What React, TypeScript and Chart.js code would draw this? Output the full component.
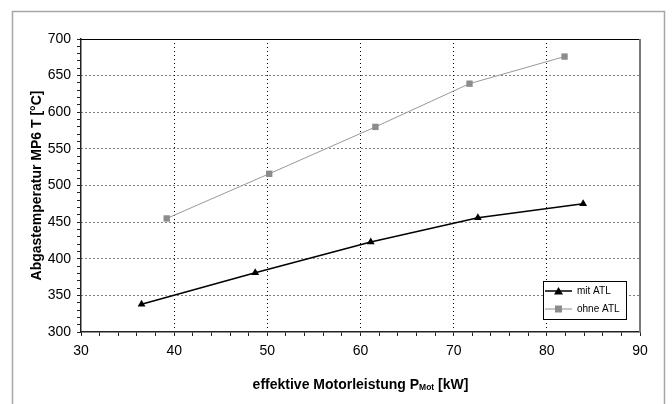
import { useEffect, useRef } from 'react';
import { Chart, registerables } from 'chart.js';

Chart.register(...registerables);

const seriesNames = ['mit ATL', 'ohne ATL'];
const mitAtlPower = [36.5, 48.7, 61.1, 72.6, 83.9];
const mitAtlTemp = [338, 381, 423, 456, 475];
const ohneAtlPower = [39.2, 50.2, 61.6, 71.7, 81.9];
const ohneAtlTemp = [455, 516, 580, 639, 676];
const xTitleMain = 'effektive Motorleistung P';
const xTitleSub = 'Mot';
const xTitleEnd = ' [kW]';
const yTitle = 'Abgastemperatur MP6 T [°C]';

const FONT = '"Liberation Sans", Arial, sans-serif';
const BLACK = '#000000';
const GRAY = '#8c8c8c';

function drawMarker(ctx: CanvasRenderingContext2D, kind: string, x: number, y: number, color: string) {
  ctx.save();
  ctx.fillStyle = color;
  if (kind === 'triangle') {
    ctx.beginPath();
    ctx.moveTo(x, y - 4);
    ctx.lineTo(x + 4.5, y + 3.5);
    ctx.lineTo(x - 4.5, y + 3.5);
    ctx.closePath();
    ctx.fill();
  } else {
    ctx.fillRect(x - 3.5, y - 3.5, 7, 7);
  }
  ctx.restore();
}

const decorPlugin = {
  id: 'decor',
  beforeDraw(chart: any) {
    const ctx = chart.ctx as CanvasRenderingContext2D;
    ctx.save();
    ctx.fillStyle = '#ffffff';
    ctx.fillRect(0, 0, chart.width, chart.height);
    ctx.strokeStyle = '#a6a6a6';
    ctx.lineWidth = 1.5;
    ctx.strokeRect(12.5, 11.5, 652, 420);
    ctx.restore();
  },
  beforeDatasetsDraw(chart: any) {
    const ctx = chart.ctx as CanvasRenderingContext2D;
    const a = chart.chartArea;
    ctx.save();
    ctx.strokeStyle = '#000';
    ctx.lineWidth = 1;
    ctx.beginPath();
    ctx.moveTo(a.left, a.top + 0.5);
    ctx.lineTo(a.right, a.top + 0.5);
    ctx.stroke();
    ctx.strokeStyle = '#7a7a7a';
    ctx.lineWidth = 2;
    ctx.beginPath();
    ctx.moveTo(a.right, a.top);
    ctx.lineTo(a.right, a.bottom);
    ctx.stroke();
    ctx.restore();
  },
  afterDraw(chart: any) {
    const ctx = chart.ctx as CanvasRenderingContext2D;
    const a = chart.chartArea;
    ctx.save();
    ctx.fillStyle = '#000';
    // x title with subscript
    const mainFont = `bold 14px ${FONT}`;
    const subFont = `bold 8.5px ${FONT}`;
    ctx.font = mainFont;
    const w1 = ctx.measureText(xTitleMain).width;
    const w3 = ctx.measureText(xTitleEnd).width;
    ctx.font = subFont;
    const w2 = ctx.measureText(xTitleSub).width;
    const total = w1 + w2 + w3;
    let x = (a.left + a.right) / 2 - total / 2;
    const y = 385;
    ctx.textBaseline = 'middle';
    ctx.textAlign = 'left';
    ctx.font = mainFont;
    ctx.fillText(xTitleMain, x, y);
    x += w1;
    ctx.font = subFont;
    ctx.fillText(xTitleSub, x, y + 3);
    x += w2;
    ctx.font = mainFont;
    ctx.fillText(xTitleEnd, x, y);
    // y title
    ctx.translate(37, (a.top + a.bottom) / 2);
    ctx.rotate(-Math.PI / 2);
    ctx.textAlign = 'center';
    ctx.font = mainFont;
    ctx.fillText(yTitle, 0, 0);
    ctx.restore();

    // legend
    ctx.save();
    const lx = 543, ly = 281, lw = 83, lh = 38;
    ctx.fillStyle = '#fff';
    ctx.fillRect(lx, ly, lw, lh);
    ctx.strokeStyle = '#000';
    ctx.lineWidth = 1;
    ctx.strokeRect(lx + 0.5, ly + 0.5, lw, lh);
    const rows = [
      { name: seriesNames[0], color: BLACK, kind: 'triangle', y: 291, width: 1.5 },
      { name: seriesNames[1], color: GRAY, kind: 'square', y: 309, width: 1 },
    ];
    ctx.font = `10px ${FONT}`;
    ctx.textBaseline = 'middle';
    ctx.textAlign = 'left';
    for (const r of rows) {
      ctx.strokeStyle = r.color;
      ctx.lineWidth = r.width;
      ctx.beginPath();
      ctx.moveTo(545, r.y);
      ctx.lineTo(572, r.y);
      ctx.stroke();
      drawMarker(ctx, r.kind, 558.5, r.y, r.color);
      ctx.fillStyle = '#000';
      ctx.fillText(r.name, 577, r.y);
    }
    ctx.restore();
  },
};

export default function App() {
  const canvasRef = useRef<HTMLCanvasElement | null>(null);

  useEffect(() => {
    const canvas = canvasRef.current;
    if (!canvas) return;
    const gridColor = (major: number, min: number, max: number) => (c: any) => {
      const v = c.tick ? c.tick.value : NaN;
      if (v === min || v === max) return 'rgba(0,0,0,0)';
      return Math.abs(v % major) < 1e-6 ? '#000' : 'rgba(0,0,0,0)';
    };
    const chart = new Chart(canvas, {
      type: 'scatter',
      data: {
        datasets: [
          {
            label: seriesNames[0],
            data: mitAtlPower.map((p, i) => ({ x: p, y: mitAtlTemp[i] })),
            showLine: true,
            borderColor: BLACK,
            backgroundColor: BLACK,
            borderWidth: 1.5,
            pointStyle: 'triangle',
            pointRadius: 4.5,
            pointBorderWidth: 0,
          },
          {
            label: seriesNames[1],
            data: ohneAtlPower.map((p, i) => ({ x: p, y: ohneAtlTemp[i] })),
            showLine: true,
            borderColor: '#999999',
            backgroundColor: GRAY,
            borderWidth: 1,
            pointStyle: 'rect',
            pointRadius: 4.5,
            pointBorderWidth: 0,
          },
        ],
      },
      options: {
        animation: false,
        responsive: false,
        devicePixelRatio: 1,
        layout: { padding: { left: 0, top: 39, right: 32, bottom: 0 } },
        plugins: {
          legend: { display: false },
          tooltip: { enabled: false },
        },
        scales: {
          x: {
            type: 'linear',
            min: 30,
            max: 90,
            afterFit: (s: any) => { s.height = 72; },
            ticks: {
              stepSize: 2,
              autoSkip: false,
              maxRotation: 0,
              padding: 7,
              color: '#000',
              font: { family: FONT, size: 14 },
              callback: (v: any) => (Number(v) % 10 === 0 ? String(v) : ''),
            },
            grid: {
              color: gridColor(10, 30, 90),
              lineWidth: 1,
              tickLength: 4,
              tickColor: '#222',
              tickWidth: 1,
            },
            border: { display: true, color: '#222', width: 1.5, dash: [1, 3] },
          },
          y: {
            type: 'linear',
            min: 300,
            max: 700,
            afterFit: (s: any) => { s.width = 81; },
            ticks: {
              stepSize: 10,
              autoSkip: false,
              padding: 6,
              color: '#000',
              font: { family: FONT, size: 14 },
              callback: (v: any) => (Number(v) % 50 === 0 ? String(v) : ''),
            },
            grid: {
              color: gridColor(50, 300, 700),
              lineWidth: 1,
              tickLength: 4,
              tickColor: '#222',
              tickWidth: 1,
            },
            border: { display: true, color: '#222', width: 1.5, dash: [1, 3] },
          },
        },
      },
      plugins: [decorPlugin],
    });
    return () => chart.destroy();
  }, []);

  return (
    <div style={{ position: 'fixed', left: 0, top: 0, width: 672, height: 404 }}>
      <canvas ref={canvasRef} width={672} height={404} style={{ width: 672, height: 404 }} />
    </div>
  );
}
